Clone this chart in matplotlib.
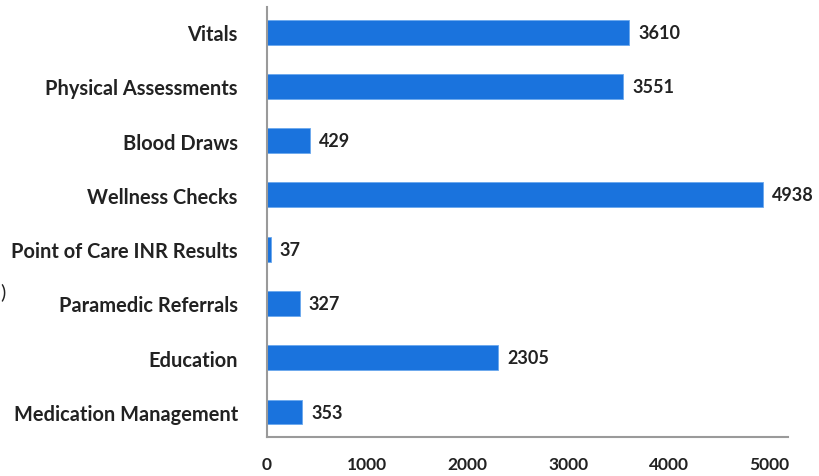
import matplotlib.pyplot as plt
import numpy as np

# Data
categories = ['Vitals', 'Physical Assessments', 'Blood Draws', 'Wellness Checks',
              'Point of Care INR Results', 'Paramedic Referrals', 'Education',
              'Medication Management']
counts = [3610, 3551, 429, 4938, 37, 327, 2305, 353]
x_ticks = [0, 1000, 2000, 3000, 4000, 5000]

plt.rcParams['font.family'] = ['Lato', 'DejaVu Sans']

bar_color = '#1a73dd'
text_color = '#222222'
axis_color = '#9a9a9a'

fig = plt.figure(figsize=(8.2, 4.77), dpi=100)
ax = fig.add_axes([0.3256, 0.0818, 0.6354, 0.9012])

y = np.arange(len(categories))
ax.barh(y, counts, height=0.46, color=bar_color, edgecolor='#6aa8ee', linewidth=0.6)

# value labels next to each bar
for yi, v in zip(y, counts):
    ax.text(v + 90, yi, str(v), va='center', ha='left',
            fontsize=13, fontweight='bold', color=text_color)

ax.set_ylim(len(categories) - 0.54, -0.46)
ax.set_xlim(0, 5190)
ax.set_yticks(y)
ax.set_yticklabels(categories, fontsize=14.4, fontweight='bold', color=text_color)
ax.set_xticks(x_ticks)
ax.set_xticklabels([str(t) for t in x_ticks], fontsize=12.5, fontweight='bold', color=text_color)
ax.tick_params(axis='y', length=0, pad=21)
ax.tick_params(axis='x', length=0, pad=14)

for side in ['top', 'right']:
    ax.spines[side].set_visible(False)
for side in ['left', 'bottom']:
    ax.spines[side].set_color(axis_color)
    ax.spines[side].set_linewidth(1.5)

# cropped fragment at the left edge of the original image
fig.text(0.0, 1 - 292 / 477, ')', fontsize=14, color=text_color, va='center', ha='left')

fig.savefig('out.png', dpi=100)
